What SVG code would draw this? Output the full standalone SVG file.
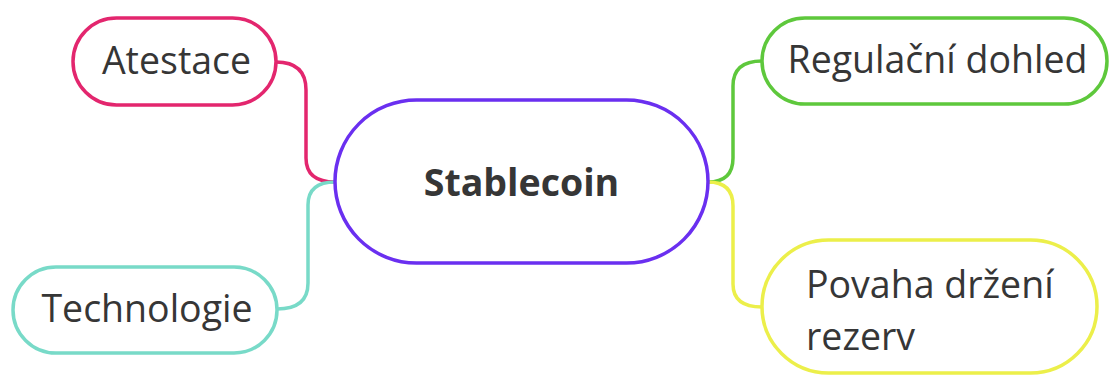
<svg xmlns="http://www.w3.org/2000/svg" width="1109" height="376" viewBox="0 0 1109 376">
<style>
.node{fill:#ffffff;stroke-width:3.5}
.lbl{font-family:"Open Sans","Liberation Sans",sans-serif;font-size:37.5px;fill:#363636}
.edge{fill:none;stroke-width:3.5}
</style>
<rect width="1109" height="376" fill="#ffffff"/>
<g id="connectors">
<path class="edge" stroke="#e3266e" d="M276,62 Q306,62 306,90 L306,158 Q306,182 335,182"/>
<path class="edge" stroke="#78dac8" d="M277,309 Q308,309 308,283 L308,205 Q308,182 335,182"/>
<path class="edge" stroke="#5ec83c" d="M708,182 Q733,182 733,158 L733,86 Q733,61 762,61"/>
<path class="edge" stroke="#ecef4a" d="M708,182 Q733,182 733,206 L733,284 Q733,307 762,307"/>
</g>
<g id="n-atestace">
<rect class="node" stroke="#e3266e" x="73" y="18" width="203" height="87" rx="43.5"/>
<text class="lbl" x="176.5" y="74" text-anchor="middle">Atestace</text>
</g>
<g id="n-technologie">
<rect class="node" stroke="#78dac8" x="13" y="267" width="264" height="86" rx="43"/>
<text class="lbl" x="147" y="322" text-anchor="middle">Technologie</text>
</g>
<g id="n-stablecoin">
<rect class="node" stroke="#6a2ff0" stroke-width="4" x="335" y="100" width="373" height="163" rx="81.5"/>
<text class="lbl" x="521.5" y="196" text-anchor="middle" font-weight="bold" fill="#222222">Stablecoin</text>
</g>
<g id="n-regulacni">
<rect class="node" stroke="#5ec83c" x="762" y="18" width="345" height="86" rx="43"/>
<text class="lbl" x="937.5" y="73" text-anchor="middle">Regulační dohled</text>
</g>
<g id="n-povaha">
<rect class="node" stroke="#ecef4a" x="762" y="240" width="335" height="133" rx="66.5"/>
<text class="lbl" x="806" y="298">Povaha držení</text>
<text class="lbl" x="806" y="350">rezerv</text>
</g>
</svg>
